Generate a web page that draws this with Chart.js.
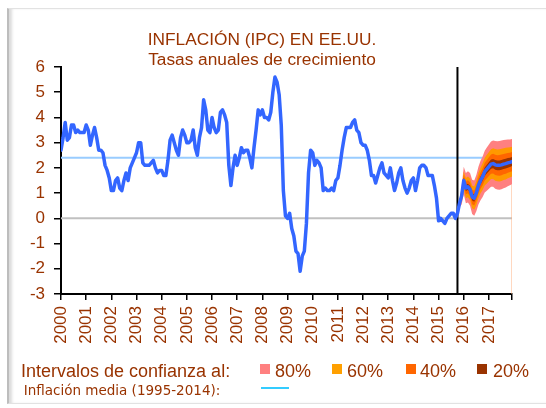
<!DOCTYPE html>
<html>
<head>
<meta charset="utf-8">
<script src="https://cdn.jsdelivr.net/npm/chart.js@4/dist/chart.umd.min.js"></script>
<style>
  html, body { margin: 0; padding: 0; background: #fff; }
  #wrap { position: relative; width: 546px; height: 408px; overflow: hidden; background: #fff; }
  #frame { position: absolute; left: 7px; top: 8px; width: 540px; height: 394px;
           border-top: 1px solid #e2e2e2; border-bottom: 1px solid #e2e2e2; border-right: 1px solid #e2e2e2;
           border-left: 2px solid #bdbdbd; box-shadow: inset 4px 0 3px -1px #dcdcdc; }
  canvas { position: absolute; left: 0; top: 0; }
  .t { position: absolute; white-space: nowrap; color: #993300; font-family: "Liberation Sans", Arial, sans-serif; }
  .sq { position: absolute; width: 10px; height: 10px; }
</style>
</head>
<body>
<div id="wrap">
  <div id="frame"></div>
  <canvas id="c" width="546" height="408"></canvas>
  <div class="t" style="left:0;width:524px;text-align:center;top:30.6px;font-size:17.3px;line-height:17px;">INFLACIÓN (IPC) EN EE.UU.</div>
  <div class="t" style="left:0;width:524px;text-align:center;top:50.6px;font-size:17.3px;line-height:17px;">Tasas anuales de crecimiento</div>

  <div class="t" style="left:21px;top:361.8px;font-size:18px;line-height:18px;">Intervalos de confianza al:</div>
  <div class="sq" style="left:260px;top:364px;background:#FF8080;"></div>
  <div class="t" style="left:275px;top:361.8px;font-size:18px;line-height:18px;">80%</div>
  <div class="sq" style="left:332px;top:364px;background:#FFA000;"></div>
  <div class="t" style="left:347px;top:361.8px;font-size:18px;line-height:18px;">60%</div>
  <div class="sq" style="left:406px;top:364px;background:#FF6600;"></div>
  <div class="t" style="left:420px;top:361.8px;font-size:18px;line-height:18px;">40%</div>
  <div class="sq" style="left:477px;top:364px;background:#993300;"></div>
  <div class="t" style="left:493px;top:361.8px;font-size:18px;line-height:18px;">20%</div>

  <div class="t" style="left:23.7px;top:383.6px;font-size:13.5px;line-height:13.5px;font-family:'DejaVu Sans',sans-serif;">Inflación media (1995-2014):</div>
  <div style="position:absolute;left:261px;top:387px;width:28px;height:2px;background:#33CCFF;"></div>
</div>
<script>
// ---- Data (monthly, year-on-year % change) ----
const startYear = 2000;
const tickLabels = ['2000','2001','2002','2003','2004','2005','2006','2007','2008','2009',
                    '2010','2011','2012','2013','2014','2015','2016','2017'];
// Observed CPI inflation, Jan 2000 - Oct 2015
const cpiObserved = [
  2.7,3.2,3.8,3.1,3.2,3.7,3.7,3.4,3.5,3.4,3.4,3.4,
  3.7,3.5,2.9,3.3,3.6,3.2,2.7,2.7,2.6,2.1,1.9,1.6,
  1.1,1.1,1.5,1.6,1.2,1.1,1.5,1.8,1.5,2.0,2.2,2.4,
  2.6,3.0,3.0,2.2,2.1,2.1,2.1,2.2,2.3,2.0,1.8,1.9,
  1.9,1.7,1.7,2.3,3.1,3.3,3.0,2.7,2.5,3.2,3.5,3.3,
  3.0,3.0,3.1,3.5,2.8,2.5,3.2,3.6,4.7,4.3,3.5,3.4,
  4.0,3.6,3.4,3.5,4.2,4.3,4.1,3.8,2.1,1.3,2.0,2.5,
  2.1,2.4,2.8,2.6,2.7,2.7,2.4,2.0,2.8,3.5,4.3,4.1,
  4.3,4.0,4.0,3.9,4.2,5.0,5.6,5.4,4.9,3.7,1.1,0.1,
  0.0,0.2,-0.4,-0.7,-1.3,-1.4,-2.1,-1.5,-1.3,-0.2,1.8,2.7,
  2.6,2.1,2.3,2.2,2.0,1.1,1.2,1.1,1.1,1.2,1.1,1.5,
  1.6,2.1,2.7,3.2,3.6,3.6,3.6,3.8,3.9,3.5,3.4,3.0,
  2.9,2.9,2.7,2.3,1.7,1.7,1.4,1.7,2.0,2.2,1.8,1.7,
  1.6,2.0,1.5,1.1,1.4,1.8,2.0,1.5,1.2,1.0,1.2,1.5,
  1.6,1.1,1.5,2.0,2.1,2.1,2.0,1.7,1.7,1.7,1.3,0.8,
  -0.1,0.0,-0.1,-0.2,0.0,0.1,0.2,0.2,0.0,0.2
];
// Central forecast, Nov 2015 - Dec 2017
const cpiForecast = [0.6,0.9,1.5,1.2,1.25,1.15,0.85,0.8,1.0,1.3,1.5,1.65,1.85,1.95,
                     2.05,2.15,2.17,2.12,2.1,2.1,2.12,2.15,2.17,2.2,2.22,2.25];
// Confidence bands, Nov 2015 - Dec 2017
const upper80 = [0.75,1.25,2.05,1.80,1.87,1.80,1.53,1.50,1.72,2.05,2.28,2.45,2.68,2.81,2.93,3.05,3.09,3.07,3.06,3.07,3.09,3.11,3.12,3.13,3.13,3.15];
const lower80 = [0.45,0.55,0.95,0.60,0.63,0.50,0.17,0.10,0.28,0.55,0.72,0.85,1.02,1.09,1.17,1.25,1.25,1.17,1.14,1.13,1.15,1.19,1.22,1.27,1.31,1.35];
const upper60 = [0.70,1.13,1.86,1.60,1.66,1.58,1.30,1.26,1.48,1.80,2.01,2.18,2.40,2.52,2.63,2.74,2.78,2.75,2.73,2.74,2.76,2.78,2.80,2.81,2.82,2.84];
const lower60 = [0.50,0.67,1.14,0.80,0.84,0.72,0.40,0.34,0.52,0.80,0.99,1.12,1.30,1.38,1.47,1.56,1.56,1.49,1.47,1.46,1.48,1.52,1.54,1.59,1.62,1.66];
const upper40 = [0.66,1.05,1.73,1.45,1.51,1.42,1.14,1.09,1.30,1.62,1.83,1.99,2.20,2.31,2.42,2.53,2.56,2.52,2.50,2.51,2.53,2.55,2.57,2.59,2.60,2.63];
const lower40 = [0.54,0.75,1.27,0.95,0.99,0.88,0.56,0.51,0.70,0.98,1.17,1.31,1.50,1.59,1.68,1.77,1.78,1.72,1.70,1.69,1.71,1.75,1.77,1.81,1.84,1.87];
const upper20 = [0.63,0.97,1.61,1.32,1.37,1.28,0.99,0.94,1.14,1.45,1.66,1.81,2.02,2.12,2.23,2.33,2.35,2.31,2.29,2.29,2.31,2.34,2.36,2.39,2.40,2.43];
const lower20 = [0.57,0.83,1.39,1.08,1.13,1.02,0.71,0.66,0.86,1.15,1.34,1.49,1.68,1.78,1.87,1.97,1.99,1.93,1.91,1.91,1.93,1.96,1.98,2.01,2.04,2.07];
const meanInflation = 2.4;   // 1995-2014 average
const yMin = -3, yMax = 6;

// ---- Build library structures ----
const allLine = cpiObserved.concat(cpiForecast);
const monthX = i => startYear + i / 12;
const lastIdx = allLine.length - 1;
const xMin = startYear, xMax = monthX(lastIdx);
const fcStart = cpiObserved.length;          // first forecast month index
const cutX = monthX(cpiObserved.length - 1); // last observed month
const pts = (arr, off) => arr.map((v, i) => ({x: monthX(off + i), y: v}));

const band = (data, fillColor, order) => ({
  data: data, borderWidth: 0, pointRadius: 0, borderColor: 'rgba(0,0,0,0)',
  backgroundColor: fillColor, order: order, tension: 0
});

const datasets = [
  {data: pts(allLine, 0), borderColor: '#3366FF', borderWidth: 3.5, pointRadius: 0, fill: false, order: 0, borderJoinStyle: 'round', borderCapStyle: 'round'},
  {data: [{x: cutX, y: yMin}, {x: cutX, y: yMax}], borderColor: '#000000', borderWidth: 2, pointRadius: 0, fill: false, order: 1},
  Object.assign(band(pts(upper20, fcStart), '#993300', 2), {fill: '+1'}),
  band(pts(lower20, fcStart), 'rgba(0,0,0,0)', 2),
  Object.assign(band(pts(upper40, fcStart), '#FF6600', 3), {fill: '+1'}),
  band(pts(lower40, fcStart), 'rgba(0,0,0,0)', 3),
  Object.assign(band(pts(upper60, fcStart), '#FF9900', 4), {fill: '+1'}),
  band(pts(lower60, fcStart), 'rgba(0,0,0,0)', 4),
  Object.assign(band(pts(upper80, fcStart), '#FF8080', 5), {fill: '+1'}),
  band(pts(lower80, fcStart), 'rgba(0,0,0,0)', 5),
  {data: [{x: xMax, y: yMin}, {x: xMax, y: lower80[lower80.length - 1]}], borderColor: '#FFB080', borderWidth: 1, pointRadius: 0, fill: false, order: 6},
  {data: [{x: xMin, y: meanInflation}, {x: xMax, y: meanInflation}], borderColor: '#99CCFF', borderWidth: 2, pointRadius: 0, fill: false, order: 7},
  {data: [{x: xMin, y: 0}, {x: xMax, y: 0}], borderColor: '#C0C0C0', borderWidth: 2, pointRadius: 0, fill: false, order: 8}
];

Chart.defaults.font.family = "'Liberation Sans', Arial, sans-serif";
new Chart(document.getElementById('c'), {
  type: 'line',
  data: {datasets: datasets},
  options: {
    responsive: false, animation: false, devicePixelRatio: 1,
    layout: {padding: {top: 67, right: 34, left: 0, bottom: 0}},
    plugins: {legend: {display: false}, tooltip: {enabled: false}},
    elements: {line: {tension: 0}},
    scales: {
      x: {
        type: 'linear', min: xMin, max: xMax,
        afterBuildTicks: s => {
          s.ticks = tickLabels.map((t, i) => ({value: startYear + i})).concat([{value: xMax}]);
        },
        afterFit: s => { s.height = 408 - 294; },
        grid: {drawOnChartArea: false, drawTicks: true, tickLength: 6, tickColor: '#000', lineWidth: 1.5},
        border: {display: true, color: '#000', width: 2},
        ticks: {
          autoSkip: false, minRotation: 90, maxRotation: 90, padding: 6,
          color: '#993300', font: {size: 17},
          callback: (v, i) => i < tickLabels.length ? tickLabels[i] : ''
        }
      },
      y: {
        min: yMin, max: yMax,
        afterFit: s => { s.width = 61; },
        grid: {drawOnChartArea: false, drawTicks: true, tickLength: 7, tickColor: '#000', lineWidth: 1.5},
        border: {display: true, color: '#000', width: 2},
        ticks: {stepSize: 1, padding: 9, color: '#993300', font: {size: 17}}
      }
    }
  }
});
</script>
</body>
</html>
